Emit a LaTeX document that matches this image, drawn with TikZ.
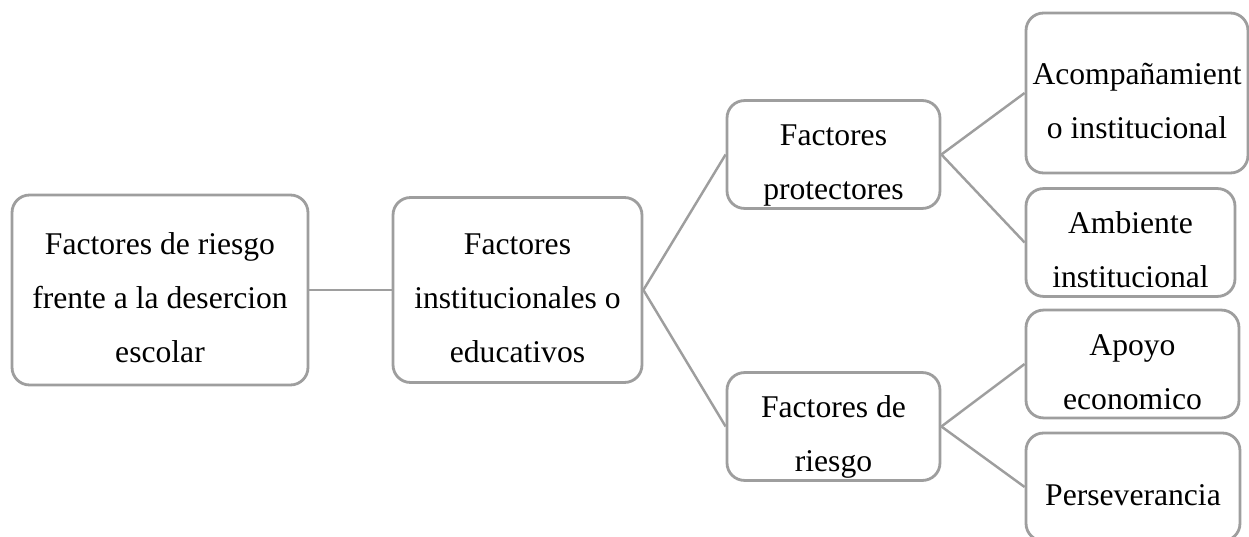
\documentclass[tikz,border=0pt]{standalone}
\usepackage{fontspec}
\setmainfont{Liberation Serif}

\newcommand{\cajatxt}[1]{\raisebox{-0.15cm}[\height][\depth]{\begin{tabular}{@{}c@{}}#1\end{tabular}}}

\begin{document}
\begin{tikzpicture}[x=0.02cm,y=-0.02cm,
  caja/.style={rectangle,rounded corners=0.35cm,draw=black!38,line width=1.6pt,fill=white,inner sep=0pt,font=\fontsize{18}{30.7}\selectfont},
  enlace/.style={draw=black!38,line width=1.4pt}]

  \useasboundingbox (0,0) rectangle (1249,537);

  \node[caja,minimum width=5.92cm,minimum height=3.8cm] at (160,290)    (riesgo)   {\cajatxt{Factores de riesgo\\frente a la desercion\\escolar}} ;
  \node[caja,minimum width=4.98cm,minimum height=3.7cm] at (517.5,290)  (instit)   {\cajatxt{Factores\\institucionales o\\educativos}} ;
  \node[caja,minimum width=4.26cm,minimum height=2.14cm] at (833.5,154.5) (protec)   {\cajatxt{Factores\\protectores}} ;
  \node[caja,minimum width=4.26cm,minimum height=2.14cm] at (833.5,426.5) (friesgo)  {\cajatxt{Factores de\\riesgo}} ;
  \node[caja,minimum width=4.44cm,minimum height=3.2cm] at (1137,93)     (acomp)    {\cajatxt{Acompañamient\\o institucional}} ;
  \node[caja,minimum width=4.18cm,minimum height=2.1cm] at (1130.5,242.5) (ambiente) {\cajatxt{Ambiente\\institucional}} ;
  \node[caja,minimum width=4.26cm,minimum height=2.08cm] at (1132.5,364)  (apoyo)    {\cajatxt{Apoyo\\economico}} ;
  \node[caja,minimum width=4.28cm,minimum height=2.16cm] at (1133,487)    (persev)   {\cajatxt{Perseverancia}} ;

  \draw[enlace] (riesgo.east)  -- (instit.west) ;
  \draw[enlace] (instit.east)  -- (protec.west) ;
  \draw[enlace] (instit.east)  -- (friesgo.west) ;
  \draw[enlace] (protec.east)  -- (acomp.west) ;
  \draw[enlace] (protec.east)  -- (ambiente.west) ;
  \draw[enlace] (friesgo.east) -- (apoyo.west) ;
  \draw[enlace] (friesgo.east) -- (persev.west) ;

\end{tikzpicture}
\end{document}
